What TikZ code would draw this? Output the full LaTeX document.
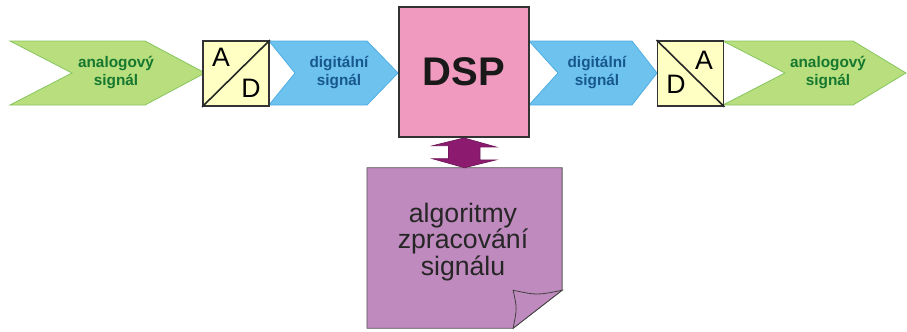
\documentclass[tikz,border=0pt]{standalone}
\usepackage{fontspec}
\setmainfont{Liberation Sans}
\usetikzlibrary{calc}

\definecolor{anafill}{HTML}{B8DE7E}
\definecolor{anadraw}{HTML}{86C65E}
\definecolor{anatext}{HTML}{16772E}
\definecolor{digfill}{HTML}{6EC2EE}
\definecolor{digdraw}{HTML}{4FAEE3}
\definecolor{digtext}{HTML}{17588C}
\definecolor{convfill}{HTML}{FFFFC4}
\definecolor{dspfill}{HTML}{F19AC0}
\definecolor{notefill}{HTML}{BF8ABE}
\definecolor{linkfill}{HTML}{8C1B6F}

\tikzset{
  anaband/.style={fill=anafill, draw=anadraw, line width=0.6pt},
  digband/.style={fill=digfill, draw=digdraw, line width=0.6pt},
  anatxt/.style={text=anatext, font=\fontsize{11.5}{13.5}\selectfont\bfseries, align=center},
  digtxt/.style={text=digtext, font=\fontsize{11.5}{13.5}\selectfont\bfseries, align=center},
  convbox/.style={draw=black!80, fill=convfill, line width=1.4pt, minimum width=49.5pt, minimum height=48.75pt, inner sep=0pt},
  convlet/.style={font=\fontsize{20}{20}\selectfont, inner sep=0pt}
}

\begin{document}
\begin{tikzpicture}[x=0.75pt, y=-0.75pt]
\useasboundingbox (0,0) rectangle (907,332);

% signal bands
\draw[anaband] (10,41) -- (145,41) -- (205,73) -- (145,105) -- (10,105) -- (72,73) -- cycle;
\node[anatxt] (anain) at (116,73) {analogový\\signál};
\draw[digband] (269,41) -- (367,41) -- (398,73) -- (367,105) -- (269,105) -- (295,73) -- cycle;
\node[digtxt] (digin) at (339,73) {digitální\\signál};
\draw[digband] (529,41) -- (632,41) -- (657,73) -- (632,105) -- (529,105) -- (558,73) -- cycle;
\node[digtxt] (digout) at (597,73) {digitální\\signál};
\draw[anaband] (723,41) -- (853,41) -- (906,73) -- (853,105) -- (723,105) -- (785,73) -- cycle;
\node[anatxt] (anaout) at (828,73) {analogový\\signál};

% converters
\node[convbox] (ad) at (236,73.5) {};
\draw[line width=1.2pt, black!85] (ad.south west) -- (ad.north east);
\node[convlet] (ada) at (221,57) {A};
\node[convlet] (add) at (251,88) {D};
\node[convbox] (da) at (690.5,73.5) {};
\draw[line width=1.2pt, black!85] (da.north west) -- (da.south east);
\node[convlet] (dad) at (676,84) {D};
\node[convlet] (daa) at (704,60) {A};

% processor
\node[draw=black!80, fill=dspfill, line width=1.4pt, minimum width=98pt, minimum height=97.5pt,
  font=\fontsize{30}{30}\selectfont\bfseries, text=black!90] (dsp) at (464,72) {DSP};

% algorithms note
\node[minimum width=146pt, minimum height=120pt, inner sep=0pt] (note) at (464.5,248) {};
\draw[fill=notefill, draw=black!65, line width=0.6pt]
  (note.north west) -- (note.north east) -- ($(note.south east)+(0,-38)$)
  -- ($(note.south east)+(-49,0)$) -- (note.south west) -- cycle;
\draw[fill=notefill, draw=black!75, line width=0.6pt]
  ($(note.south east)+(-49,-38)$) .. controls ($(note.south east)+(-25,-33)$) .. ($(note.south east)+(0,-38)$)
  -- ($(note.south east)+(-49,0)$) .. controls ($(note.south east)+(-45,-20)$) .. cycle;
\node[font=\fontsize{20}{20}\selectfont, text=black!85, align=center] (notetxt) at (463,242)
  {algoritmy\\zpracování\\signálu};

% link between processor and algorithms
\draw[fill=linkfill, draw=linkfill!80!black, line width=0.5pt]
  (dsp.south) -- ++(32,9) -- ++(-16,0) -- ++(0,13) -- ++(16,0) -- (note.north)
  -- ++(-32,-9) -- ++(16,0) -- ++(0,-13) -- ++(-16,0) -- cycle;
\end{tikzpicture}
\end{document}
